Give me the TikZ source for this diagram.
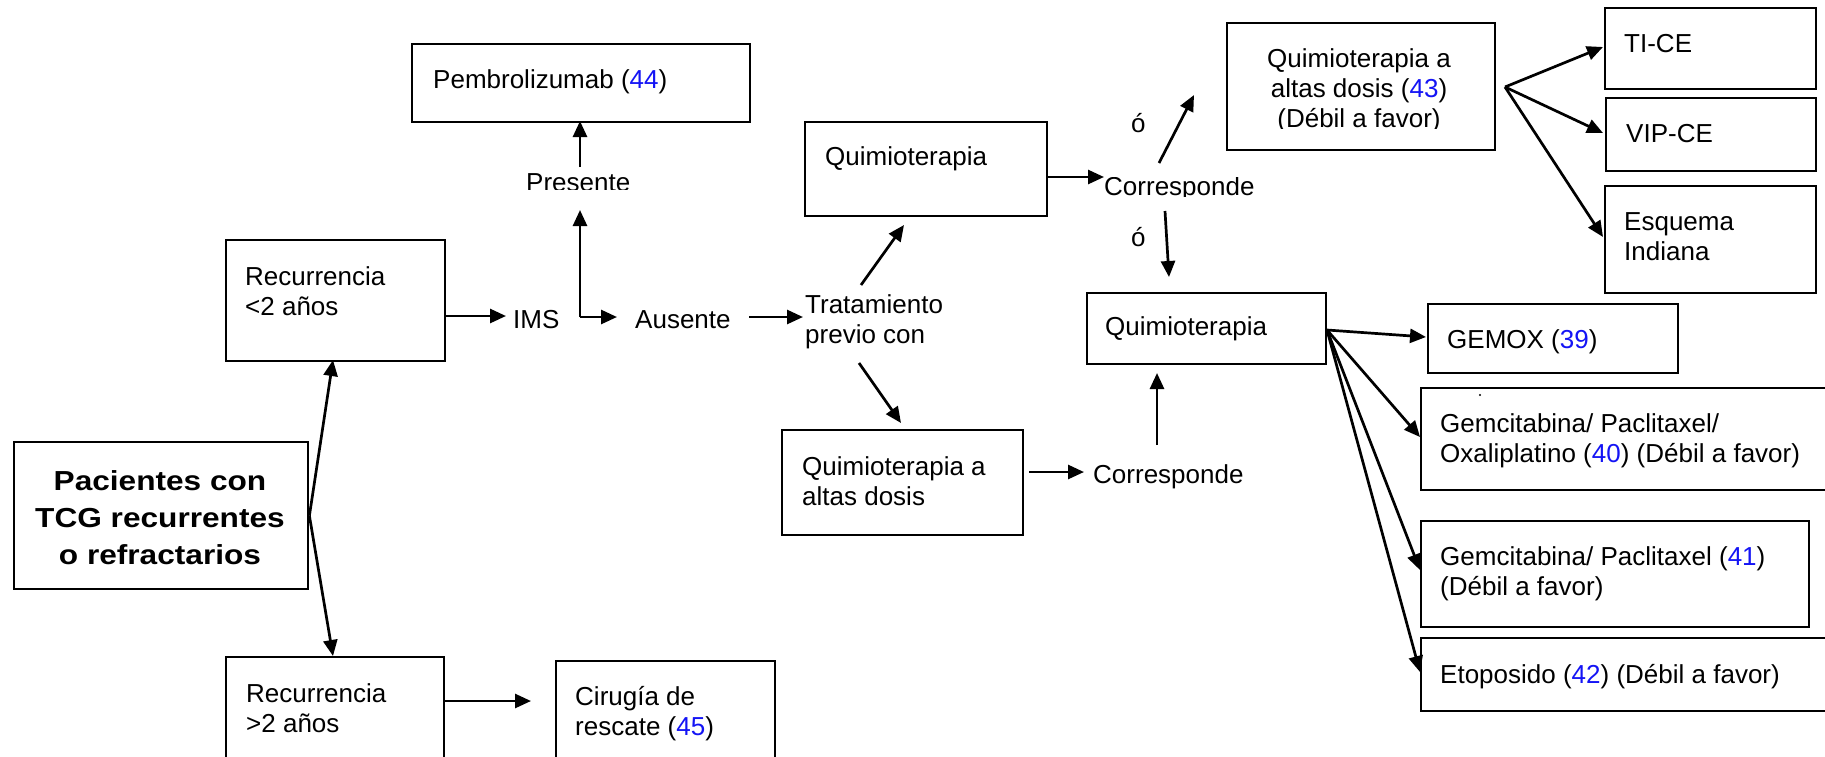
\documentclass[tikz,border=0pt]{standalone}
\usepackage{fontspec}
\setmainfont{Liberation Sans}
\newfontfamily\titlefont[FakeStretch=1.15]{Liberation Sans}
\usetikzlibrary{arrows.meta}
% stacked lines whose baseline is the first line
\newcommand\linesL[1]{\vtop{\halign{##\hfil\cr#1\crcr}}}
\newcommand\linesC[1]{\vtop{\halign{\hfil##\hfil\cr#1\crcr}}}
\newcommand\refno[1]{\textcolor{refblue}{#1}}
\definecolor{refblue}{RGB}{20,20,245}
\begin{document}
\begin{tikzpicture}[x=1pt,y=-1pt,
  box/.style={draw, line width=2.4pt, inner sep=0pt, anchor=north west},
  lbl/.style={anchor=base west, inner sep=0pt, font=\fontsize{26}{30}\selectfont},
  lblc/.style={anchor=base, inner sep=0pt, font=\fontsize{26}{30}\selectfont},
  ttl/.style={anchor=base, inner sep=0pt, font=\titlefont\bfseries\fontsize{27.5}{37}\selectfont},
  conn/.style={line width=2.7pt, -{Triangle[length=16pt,width=14pt]}}]
\clip (0,0) rectangle (1825,756);
\fill[white] (0,0) rectangle (1825,756);

% boxes
\node[box, minimum width=294pt, minimum height=147pt] (pac) at (13,441) {};
\node[box, minimum width=219pt, minimum height=121pt] (r1) at (225,239) {};
\node[box, minimum width=218pt, minimum height=150pt] (r2) at (225,656) {};
\node[box, minimum width=219pt, minimum height=150pt] (cir) at (555,660) {};
\node[box, minimum width=338pt, minimum height=78pt] (pem) at (411,43) {};
\node[box, minimum width=242pt, minimum height=94pt] (q1) at (804,121) {};
\node[box, minimum width=241pt, minimum height=105pt] (q2) at (781,429) {};
\node[box, minimum width=268pt, minimum height=127pt] (q3) at (1226,22) {};
\node[box, minimum width=239pt, minimum height=71pt] (q4) at (1086,292) {};
\node[box, minimum width=211pt, minimum height=81pt] (tice) at (1604,7) {};
\node[box, minimum width=210pt, minimum height=73pt] (vip) at (1605,97) {};
\node[box, minimum width=211pt, minimum height=107pt] (esq) at (1604,185) {};
\node[box, minimum width=250pt, minimum height=69pt] (gemox) at (1427,303) {};
\node[box, minimum width=430pt, minimum height=102pt] (gpo) at (1420,387) {};
\node[box, minimum width=388pt, minimum height=106pt] (gp) at (1420,520) {};
\node[box, minimum width=430pt, minimum height=73pt] (eto) at (1420,637) {};
\fill (1480,395) circle (1.1);

% texts
\node[ttl] (tpac) at (160,490) {\linesC{Pacientes con\cr TCG recurrentes\cr o refractarios}};
\node[lbl] (tr1) at (245,285) {\linesL{Recurrencia\cr <2 años}};
\node[lbl] (tr2) at (246,702) {\linesL{Recurrencia\cr >2 años}};
\node[lbl] (tcir) at (575,705) {\linesL{Cirugía de\cr rescate (\refno{45})}};
\node[lbl] (tpem) at (433,88) {Pembrolizumab (\refno{44})};
\node[lbl] (ims) at (513,328) {IMS};
\node[lbl] (aus) at (635,328) {Ausente};
\begin{scope}
  \clip (480,150) rectangle (700,189.5);
  \node[lbl] (pres) at (526,191) {Presente};
\end{scope}
\node[lbl] (trat) at (805,313) {\linesL{Tratamiento\cr previo con}};
\node[lbl] (tq1) at (825,165) {Quimioterapia};
\begin{scope}
  \clip (1090,177.5) rectangle (1300,196);
  \node[lbl] (corr1) at (1104,195) {Corresponde};
\end{scope}
\node[lbl] (o1) at (1131,132) {ó};
\node[lbl] (o2) at (1131,246) {ó};
\begin{scope}
  \clip (1230,25) rectangle (1490,128.5);
  \node[lblc] (tq3) at (1359,67) {\linesC{Quimioterapia a\cr altas dosis (\refno{43})\cr (Débil a favor)}};
\end{scope}
\node[lbl] (ttice) at (1624,52) {TI-CE};
\node[lbl] (tvip) at (1626,142) {VIP-CE};
\node[lbl] (tesq) at (1624,230) {\linesL{Esquema\cr Indiana}};
\node[lbl] (tq4) at (1105,335) {Quimioterapia};
\node[lbl] (tgemox) at (1447,348) {GEMOX (\refno{39})};
\node[lbl] (tgpo) at (1440,432) {\linesL{Gemcitabina/ Paclitaxel/\cr Oxaliplatino (\refno{40}) (Débil a favor)}};
\node[lbl] (tgp) at (1440,565) {\linesL{Gemcitabina/ Paclitaxel (\refno{41})\cr (Débil a favor)}};
\node[lbl] (teto) at (1440,683) {Etoposido (\refno{42}) (Débil a favor)};
\node[lbl] (tq2) at (802,475) {\linesL{Quimioterapia a\cr altas dosis}};
\node[lbl] (corr2) at (1093,483) {Corresponde};

% connector end points
\coordinate (r1in) at (333,360);
\coordinate (r2in) at (333,656);
\coordinate (r1out) at (444,316);
\coordinate (imsin) at (506,316);
\coordinate (elb) at (580,317);
\coordinate (presin) at (580,210);
\coordinate (ausin) at (617,317);
\coordinate (presout) at (580,167);
\coordinate (pemin) at (580,121);
\coordinate (ausout) at (749,317);
\coordinate (tratin) at (803,317);
\coordinate (tratup) at (861,285);
\coordinate (q1in) at (904,225);
\coordinate (tratdn) at (859,363);
\coordinate (q2in) at (901,423);
\coordinate (q1out) at (1046,177);
\coordinate (c1in) at (1104,177);
\coordinate (c1up) at (1159,163);
\coordinate (q3in) at (1194,95);
\coordinate (c1dn) at (1165,211);
\coordinate (q4in) at (1169,277);
\coordinate (q2out) at (1029,472);
\coordinate (c2in) at (1084,472);
\coordinate (c2up) at (1157,445);
\coordinate (q4inb) at (1157,373);
\coordinate (fan3) at (1505,87);
\coordinate (ticein) at (1603,47);
\coordinate (vipin) at (1603,133);
\coordinate (esqin) at (1603,237);
\coordinate (fan4) at (1327,330);
\coordinate (gemoxin) at (1426,337);
\coordinate (gpoin) at (1420,437);
\coordinate (gpin) at (1420,570);
\coordinate (etoin) at (1420,672);
\coordinate (r2out) at (443,701);
\coordinate (cirin) at (531,701);

% connectors
\draw[conn] (pac.east) -- (r1in);
\draw[conn] (pac.east) -- (r2in);
\draw[conn] (r1out) -- (imsin);
\draw[conn] (elb) -- (presin);
\draw[conn] (elb) -- (ausin);
\draw[conn] (presout) -- (pemin);
\draw[conn] (ausout) -- (tratin);
\draw[conn] (tratup) -- (q1in);
\draw[conn] (tratdn) -- (q2in);
\draw[conn] (q1out) -- (c1in);
\draw[conn] (c1up) -- (q3in);
\draw[conn] (c1dn) -- (q4in);
\draw[conn] (q2out) -- (c2in);
\draw[conn] (c2up) -- (q4inb);
\draw[conn] (fan3) -- (ticein);
\draw[conn] (fan3) -- (vipin);
\draw[conn] (fan3) -- (esqin);
\draw[conn] (fan4) -- (gemoxin);
\draw[conn] (fan4) -- (gpoin);
\draw[conn] (fan4) -- (gpin);
\draw[conn] (fan4) -- (etoin);
\draw[conn] (r2out) -- (cirin);
\end{tikzpicture}
\end{document}
